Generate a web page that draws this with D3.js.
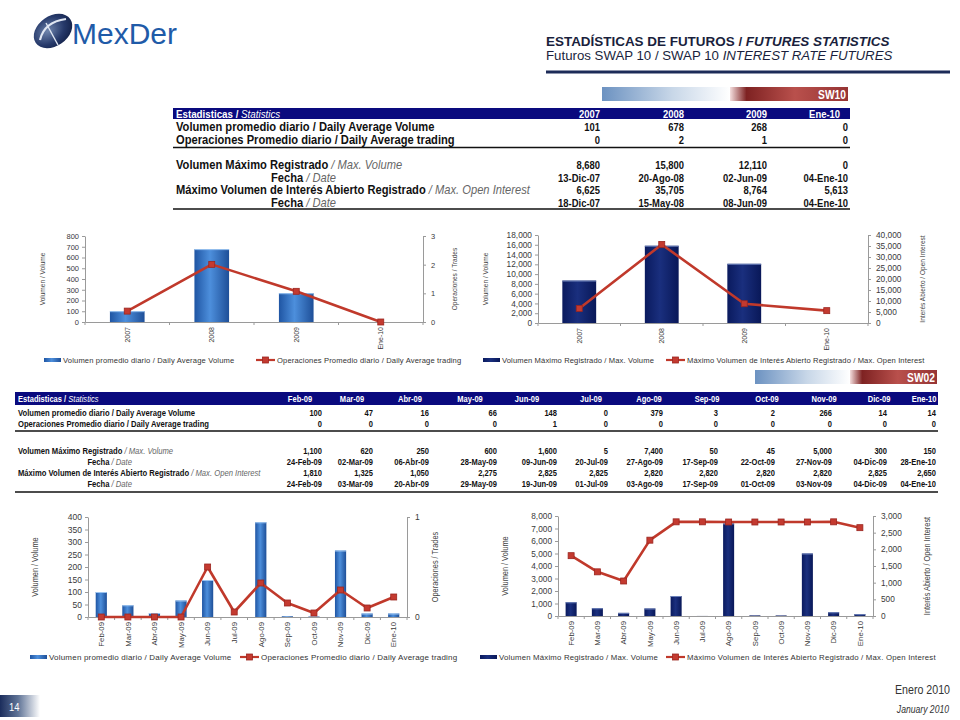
<!DOCTYPE html>
<html>
<head>
<meta charset="utf-8">
<script src="https://cdn.jsdelivr.net/npm/d3@7"></script>
<style>
  body { margin: 0; background: #fff; }
  svg { display: block; }
</style>
</head>
<body>
<div id="wrapper"></div>
<script>
// ---- data: SW10 ----
const sw10Periods = ["2007", "2008", "2009", "Ene-10"];
const sw10AvgVolume = [101, 678, 268, 0];
const sw10AvgTrades = [0, 2, 1, 0];
const sw10AvgTradesPlot = [0.38, 2.01, 1.07, 0]; // unrounded values as plotted
const sw10MaxVolume = [8680, 15800, 12110, 0];
const sw10MaxVolumeDate = ["13-Dic-07", "20-Ago-08", "02-Jun-09", "04-Ene-10"];
const sw10MaxOI = [6625, 35705, 8764, 5613];
const sw10MaxOIDate = ["18-Dic-07", "15-May-08", "08-Jun-09", "04-Ene-10"];

// ---- data: SW02 ----
const sw02Periods = ["Feb-09", "Mar-09", "Abr-09", "May-09", "Jun-09", "Jul-09",
  "Ago-09", "Sep-09", "Oct-09", "Nov-09", "Dic-09", "Ene-10"];
const sw02AvgVolume = [100, 47, 16, 66, 148, 0, 379, 3, 2, 266, 14, 14];
const sw02AvgTrades = [0, 0, 0, 0, 1, 0, 0, 0, 0, 0, 0, 0];
const sw02AvgTradesPlot = [0, 0, 0, 0, 0.50, 0.05, 0.34, 0.14, 0.04, 0.27, 0.09, 0.20];
const sw02MaxVolume = [1100, 620, 250, 600, 1600, 5, 7400, 50, 45, 5000, 300, 150];
const sw02MaxVolumeDate = ["24-Feb-09", "02-Mar-09", "06-Abr-09", "28-May-09", "09-Jun-09", "20-Jul-09",
  "27-Ago-09", "17-Sep-09", "22-Oct-09", "27-Nov-09", "04-Dic-09", "28-Ene-10"];
const sw02MaxOI = [1810, 1325, 1050, 2275, 2825, 2825, 2820, 2820, 2820, 2820, 2825, 2650];
const sw02MaxOIDate = ["24-Feb-09", "03-Mar-09", "20-Abr-09", "29-May-09", "19-Jun-09", "01-Jul-09",
  "03-Ago-09", "17-Sep-09", "01-Oct-09", "03-Nov-09", "04-Dic-09", "04-Ene-10"];

// ---- tick labels ----
const c1LeftTicks = [0, 100, 200, 300, 400, 500, 600, 700, 800];
const c1RightTicks = [0, 1, 2, 3];
const c2LeftTicks = [0, 2000, 4000, 6000, 8000, 10000, 12000, 14000, 16000, 18000];
const c2RightTicks = [0, 5000, 10000, 15000, 20000, 25000, 30000, 35000, 40000];
const c3LeftTicks = [0, 50, 100, 150, 200, 250, 300, 350, 400];
const c3RightTicks = [0, 1];
const c4LeftTicks = [0, 1000, 2000, 3000, 4000, 5000, 6000, 7000, 8000];
const c4RightTicks = [0, 500, 1000, 1500, 2000, 2500, 3000];

// no narrow face installed: texts of class "nar" get squeezed horizontally at the end
const SANS = "'Liberation Sans', Arial, sans-serif";
const NARROW_K = 0.82;
const NAVY = "#0a0a7e";
const RED = "#c0392b";
const fmt = d3.format(",");

const svg = d3.select("#wrapper").append("svg")
  .attr("width", 960).attr("height", 720)
  .style("background", "#fff");

const defs = svg.append("defs");

function hGrad(id, stops) {
  const g = defs.append("linearGradient").attr("id", id)
    .attr("x1", "0%").attr("x2", "100%").attr("y1", "0%").attr("y2", "0%");
  stops.forEach(s => g.append("stop").attr("offset", s[0]).attr("stop-color", s[1]));
}
hGrad("blueBar", [["0%", "#1f55a3"], ["45%", "#4d8fdc"], ["100%", "#1e4f98"]]);
hGrad("navyBar", [["0%", "#0a1a5e"], ["45%", "#1a2f7e"], ["100%", "#091858"]]);
hGrad("bannerBlue", [["0%", "#6c92c1"], ["55%", "#c8d7e8"], ["100%", "#ffffff"]]);
hGrad("bannerRed", [["0%", "#f4dede"], ["14%", "#7e2222"], ["55%", "#b9504c"], ["100%", "#963434"]]);
hGrad("pageBox", [["0%", "#1b2d5c"], ["45%", "#5f7396"], ["100%", "#ffffff"]]);
const rg = defs.append("radialGradient").attr("id", "logoGrad").attr("cx", "40%").attr("cy", "40%").attr("r", "70%");
rg.append("stop").attr("offset", "0%").attr("stop-color", "#6f85ad");
rg.append("stop").attr("offset", "60%").attr("stop-color", "#26396a");
rg.append("stop").attr("offset", "100%").attr("stop-color", "#111f45");

// ---- logo ----
const logo = svg.append("g");
logo.append("ellipse").attr("cx", 53).attr("cy", 31).attr("rx", 21).attr("ry", 15)
  .attr("transform", "rotate(-35,53,31)").attr("fill", "url(#logoGrad)");
logo.append("path").attr("d", "M40,40 Q44,22 66,19").attr("fill", "none")
  .attr("stroke", "#dfe6f2").attr("stroke-width", 2.2);
logo.append("path").attr("d", "M46,23 L58,45").attr("fill", "none")
  .attr("stroke", "#dfe6f2").attr("stroke-width", 1.4);
logo.append("text").attr("x", 72).attr("y", 44).text("MexDer")
  .style("font-family", SANS).style("font-size", "30px").attr("fill", "#1f5ba8");

// ---- title ----
const title = svg.append("text").attr("class", "nar").attr("data-fit", 344).attr("x", 546).attr("y", 46)
  .style("font-family", SANS).style("font-size", "12.5px").style("font-weight", "bold").attr("fill", "#1a1f3d");
title.append("tspan").text("ESTADÍSTICAS DE FUTUROS  / ");
title.append("tspan").style("font-style", "italic").text("FUTURES STATISTICS");
const sub = svg.append("text").attr("class", "nar").attr("data-fit", 347).attr("x", 546).attr("y", 60)
  .style("font-family", SANS).style("font-size", "12px").attr("fill", "#1a1f3d");
sub.append("tspan").text("Futuros SWAP 10 / SWAP 10 ");
sub.append("tspan").style("font-style", "italic").text("INTEREST RATE FUTURES");
svg.append("line").attr("x1", 546).attr("x2", 950).attr("y1", 72).attr("y2", 72)
  .attr("stroke", "#1c2b58").attr("stroke-width", 3);

// ---- banners ----
function banner(x0, xMid, x1, y, h, label) {
  svg.append("rect").attr("x", x0).attr("y", y).attr("width", xMid - x0).attr("height", h).attr("fill", "url(#bannerBlue)");
  svg.append("rect").attr("x", xMid).attr("y", y).attr("width", x1 - xMid).attr("height", h).attr("fill", "url(#bannerRed)");
  svg.append("text").attr("class", "nar").attr("x", x1 - 2).attr("y", y + h - 2.5).attr("text-anchor", "end").text(label)
    .style("font-family", SANS).style("font-weight", "bold").style("font-size", "12.5px").attr("fill", "#fff");
}
banner(602, 730, 848, 87, 14, "SW10");
banner(755, 850, 937, 370, 14, "SW02");

// ---- tables ----
function drawTable(cfg) {
  const t = svg.append("g");
  t.append("rect").attr("x", cfg.x0).attr("y", cfg.headerTop).attr("width", cfg.x1 - cfg.x0)
    .attr("height", cfg.headerH).attr("fill", NAVY);
  const font = (sel, size, k) => sel.attr("class", "nar").attr("data-k", k)
    .style("font-family", SANS).style("font-size", size + "px");
  const hy = cfg.headerTop + cfg.headerH / 2 + cfg.fs * 0.36;
  const h = font(t.append("text").attr("x", cfg.x0 + 3).attr("y", hy), cfg.fs, cfg.headK).attr("fill", "#fff");
  h.append("tspan").style("font-weight", "bold").text("Estadisticas / ");
  h.append("tspan").style("font-style", "italic").text("Statistics");
  cfg.periods.forEach((p, i) => {
    font(t.append("text").attr("x", cfg.headX[i]).attr("y", hy).attr("text-anchor", cfg.headAnchor), cfg.fs, NARROW_K)
      .style("font-weight", "bold").attr("fill", "#fff").text(p);
  });

  const rows = [
    { es: "Volumen promedio diario / Daily Average Volume", en: "", vals: cfg.avgVol.map(fmt) },
    { es: "Operaciones Promedio diario / Daily Average trading", en: "", vals: cfg.avgTrades.map(fmt) },
    { es: "Volumen Máximo Registrado", en: " / Max. Volume", vals: cfg.maxVol.map(fmt) },
    { es: "Fecha", en: " / Date", vals: cfg.maxVolDate, right: true },
    { es: "Máximo Volumen de Interés Abierto Registrado", en: " / Max. Open Interest", vals: cfg.maxOI.map(fmt) },
    { es: "Fecha", en: " / Date", vals: cfg.maxOIDate, right: true }
  ];
  rows.forEach((r, ri) => {
    const y = cfg.rowY[ri] + cfg.fs * 0.36;
    const lab = font(t.append("text").attr("y", y), cfg.labelFs, cfg.labelK).attr("fill", "#111");
    if (r.right) lab.attr("x", cfg.fechaRight).attr("text-anchor", "end");
    else lab.attr("x", cfg.x0 + 3);
    lab.append("tspan").style("font-weight", "bold").text(r.es);
    if (r.en) lab.append("tspan").style("font-style", "italic").attr("fill", "#666").text(r.en);
    r.vals.forEach((v, i) => {
      font(t.append("text").attr("x", cfg.colRight[i]).attr("y", y).attr("text-anchor", "end"), cfg.fs, NARROW_K)
        .style("font-weight", "bold").attr("fill", "#111").text(v);
    });
  });
  cfg.rules.forEach(ry => t.append("line").attr("x1", cfg.x0).attr("x2", cfg.x1)
    .attr("y1", ry).attr("y2", ry).attr("stroke", "#111").attr("stroke-width", 1.6));
}

drawTable({
  x0: 173, x1: 850, headerTop: 108, headerH: 11, fs: 11.5, labelFs: 12, labelK: 0.93, headK: 0.85,
  periods: sw10Periods, headX: [600, 684, 767, 840], headAnchor: "end",
  colRight: [600, 684, 767, 848], fechaRight: 336,
  rowY: [127, 140, 165, 178, 190, 203], rules: [147.5, 209],
  avgVol: sw10AvgVolume, avgTrades: sw10AvgTrades, maxVol: sw10MaxVolume,
  maxVolDate: sw10MaxVolumeDate, maxOI: sw10MaxOI, maxOIDate: sw10MaxOIDate
});

drawTable({
  x0: 15, x1: 938, headerTop: 392, headerH: 13, fs: 9.2, labelFs: 9, labelK: 0.85, headK: 0.82,
  periods: sw02Periods, headX: [300, 352, 410, 470, 527, 591, 649, 707, 767, 824, 879, 924], headAnchor: "middle",
  colRight: [322, 373, 429, 497, 557, 608, 663, 718, 775, 832, 887, 936], fechaRight: 132,
  rowY: [413, 424, 451, 462, 473, 484], rules: [431, 492],
  avgVol: sw02AvgVolume, avgTrades: sw02AvgTrades, maxVol: sw02MaxVolume,
  maxVolDate: sw02MaxVolumeDate, maxOI: sw02MaxOI, maxOIDate: sw02MaxOIDate
});

// ---- combo charts (bars on left axis, line on right axis) ----
function drawCombo(cfg) {
  const g = svg.append("g");
  const x = d3.scaleBand().domain(cfg.cats).range([cfg.x0, cfg.x1]);
  const yL = d3.scaleLinear().domain([0, d3.max(cfg.leftTicks)]).range([cfg.yBot, cfg.yTop]);
  const yR = d3.scaleLinear().domain([0, d3.max(cfg.rightTicks)]).range([cfg.yBot, cfg.yTop]);

  const styleAxis = a => {
    a.selectAll("path, line").attr("stroke", "#9a9a9a");
    a.selectAll("text").style("font-family", SANS).style("font-size", cfg.fs + "px").attr("fill", "#3a3a3a");
  };
  g.append("g").attr("transform", `translate(${cfg.x0},0)`)
    .call(d3.axisLeft(yL).tickValues(cfg.leftTicks).tickFormat(fmt).tickSize(3).tickSizeOuter(0).tickPadding(3))
    .call(styleAxis);
  g.append("g").attr("transform", `translate(${cfg.x1},0)`)
    .call(d3.axisRight(yR).tickValues(cfg.rightTicks).tickFormat(fmt).tickSize(3).tickSizeOuter(0).tickPadding(5))
    .call(styleAxis);

  // category axis: baseline, boundary ticks, rotated labels
  const xa = g.append("g").attr("transform", `translate(0,${cfg.yBot})`)
    .call(d3.axisBottom(x).tickSize(0).tickSizeOuter(0).tickPadding(0))
    .call(styleAxis);
  xa.selectAll(".tick text")
    .attr("y", 0).attr("x", -5).attr("dy", "0.35em")
    .attr("transform", "rotate(-90)").style("text-anchor", "end")
    .style("font-size", cfg.xfs + "px");
  xa.selectAll(".bound").data(cfg.cats.concat(["_end"])).enter().append("line")
    .attr("x1", (d, i) => cfg.x0 + i * x.step()).attr("x2", (d, i) => cfg.x0 + i * x.step())
    .attr("y1", 0).attr("y2", 3).attr("stroke", "#9a9a9a");

  // bars
  const bw = x.bandwidth() * cfg.barRatio;
  g.selectAll(".bar").data(cfg.bars).enter().append("rect")
    .attr("x", (d, i) => x(cfg.cats[i]) + (x.bandwidth() - bw) / 2)
    .attr("y", d => yL(d))
    .attr("width", bw)
    .attr("height", d => cfg.yBot - yL(d))
    .attr("fill", cfg.barFill);
  g.selectAll(".barTop").data(cfg.bars).enter().append("rect")
    .attr("x", (d, i) => x(cfg.cats[i]) + (x.bandwidth() - bw) / 2)
    .attr("y", d => yL(d))
    .attr("width", bw).attr("height", d => (cfg.yBot - yL(d)) > 1.5 ? 1 : 0)
    .attr("fill", cfg.barTop);

  // line
  const line = d3.line().x((d, i) => x(cfg.cats[i]) + x.bandwidth() / 2).y(d => yR(d));
  g.append("path").attr("d", line(cfg.line)).attr("fill", "none")
    .attr("stroke", RED).attr("stroke-width", 2.6).attr("stroke-linejoin", "round");
  g.selectAll(".mk").data(cfg.line).enter().append("rect")
    .attr("x", (d, i) => x(cfg.cats[i]) + x.bandwidth() / 2 - 3)
    .attr("y", d => yR(d) - 3)
    .attr("width", 6).attr("height", 6)
    .attr("fill", "#c43a30").attr("stroke", "#9b2620").attr("stroke-width", 0.8);

  // axis titles
  const midY = (cfg.yTop + cfg.yBot) / 2;
  [[cfg.leftTitleX, cfg.leftTitle], [cfg.rightTitleX, cfg.rightTitle]].forEach(([tx, txt]) => {
    g.append("text").attr("class", "nar").attr("transform", `translate(${tx},${midY}) rotate(-90)`)
      .attr("text-anchor", "middle").attr("dy", "0.35em").text(txt)
      .style("font-family", SANS).style("font-size", cfg.tfs + "px").attr("fill", "#444");
  });

  // legend
  const ly = cfg.legendY;
  const legText = (lx, txt) => g.append("text").attr("x", lx).attr("y", ly).attr("dy", "0.35em").text(txt)
    .style("font-family", SANS).style("font-size", cfg.lfs + "px").style("letter-spacing", cfg.lsp + "px")
    .attr("fill", "#333");
  g.append("rect").attr("x", cfg.legX[0]).attr("y", ly - 2).attr("width", 17).attr("height", 4).attr("fill", cfg.barFill);
  legText(cfg.legX[0] + 19, cfg.legend[0]);
  g.append("line").attr("x1", cfg.legX[1]).attr("x2", cfg.legX[1] + 19).attr("y1", ly).attr("y2", ly)
    .attr("stroke", RED).attr("stroke-width", 2.2);
  g.append("rect").attr("x", cfg.legX[1] + 6.5).attr("y", ly - 3).attr("width", 6).attr("height", 6)
    .attr("fill", "#c43a30").attr("stroke", "#9b2620").attr("stroke-width", 0.8);
  legText(cfg.legX[1] + 21, cfg.legend[1]);
}

const legAvg = ["Volumen promedio diario / Daily Average Volume", "Operaciones Promedio diario / Daily Average trading"];
const legMax = ["Volumen Máximo Registrado / Max.  Volume", "Máximo Volumen de Interés  Abierto Registrado / Max.  Open Interest"];

drawCombo({
  cats: sw10Periods, bars: sw10AvgVolume, line: sw10AvgTradesPlot,
  leftTicks: c1LeftTicks, rightTicks: c1RightTicks,
  x0: 85, x1: 423, yTop: 236, yBot: 322, barRatio: 0.41,
  barFill: "url(#blueBar)", barTop: "#9cc4f0",
  fs: 7.5, xfs: 7, tfs: 8, lfs: 7.6, lsp: 0.15,
  leftTitle: "Volumen / Volume", rightTitle: "Operaciones / Trades", leftTitleX: 42, rightTitleX: 454,
  legendY: 360, legX: [44, 256], legend: legAvg
});

drawCombo({
  cats: sw10Periods, bars: sw10MaxVolume, line: sw10MaxOI,
  leftTicks: c2LeftTicks, rightTicks: c2RightTicks,
  x0: 538, x1: 868, yTop: 235, yBot: 323, barRatio: 0.41,
  barFill: "url(#navyBar)", barTop: "#6a7fb8",
  fs: 8.3, xfs: 7, tfs: 8, lfs: 7.6, lsp: 0.12,
  leftTitle: "Volumen / Volume", rightTitle: "Interés Abierto / Open Interest", leftTitleX: 485, rightTitleX: 922,
  legendY: 360, legX: [483, 666], legend: legMax
});

drawCombo({
  cats: sw02Periods, bars: sw02AvgVolume, line: sw02AvgTradesPlot,
  leftTicks: c3LeftTicks, rightTicks: c3RightTicks,
  x0: 88, x1: 407, yTop: 517, yBot: 617, barRatio: 0.42,
  barFill: "url(#blueBar)", barTop: "#9cc4f0",
  fs: 8.5, xfs: 7.8, tfs: 9, lfs: 8, lsp: 0.2,
  leftTitle: "Volumen / Volume", rightTitle: "Operaciones / Trades", leftTitleX: 35, rightTitleX: 435,
  legendY: 657, legX: [30, 240], legend: ["Volumen promedio diario  / Daily  Average Volume", "Operaciones Promedio diario / Daily  Average trading"]
});

drawCombo({
  cats: sw02Periods, bars: sw02MaxVolume, line: sw02MaxOI,
  leftTicks: c4LeftTicks, rightTicks: c4RightTicks,
  x0: 558, x1: 873, yTop: 516, yBot: 616, barRatio: 0.42,
  barFill: "url(#navyBar)", barTop: "#6a7fb8",
  fs: 8.3, xfs: 7.8, tfs: 9, lfs: 7.8, lsp: 0.2,
  leftTitle: "Volumen / Volume", rightTitle: "Interés Abierto / Open Interest", leftTitleX: 505, rightTitleX: 927,
  legendY: 657, legX: [480, 666], legend: ["Volumen Máximo Registrado / Max. Volume", "Máximo Volumen de Interés  Abierto Registrado / Max.  Open Interest"]
});

// ---- footer ----
svg.append("text").attr("class", "nar").attr("x", 950).attr("y", 694).attr("text-anchor", "end").text("Enero 2010")
  .style("font-family", SANS).style("font-size", "13px").attr("fill", "#333");
svg.append("text").attr("class", "nar").attr("x", 949).attr("y", 713).attr("text-anchor", "end").text("January 2010")
  .style("font-family", SANS).style("font-style", "italic").style("font-size", "10.5px").attr("fill", "#333");
svg.append("rect").attr("x", 0).attr("y", 695).attr("width", 40).attr("height", 22).attr("fill", "url(#pageBox)");
svg.append("text").attr("class", "nar").attr("x", 9).attr("y", 711).text("14")
  .style("font-family", SANS).style("font-size", "11.5px").attr("fill", "#fff");

// squeeze the "narrow" texts (Arial Narrow look) with a horizontal scale about their anchor
svg.selectAll("text.nar").each(function () {
  const el = d3.select(this);
  const fit = el.attr("data-fit");
  const w = this.getComputedTextLength();
  const k = fit ? +fit / w : (el.attr("data-k") ? +el.attr("data-k") : NARROW_K);
  const tr = el.attr("transform");
  if (tr) {
    el.attr("transform", `${tr} scale(${k},1)`);
  } else {
    const x = +el.attr("x"), y = +el.attr("y");
    el.attr("x", 0).attr("y", 0).attr("transform", `translate(${x},${y}) scale(${k},1)`);
  }
});
</script>
</body>
</html>
